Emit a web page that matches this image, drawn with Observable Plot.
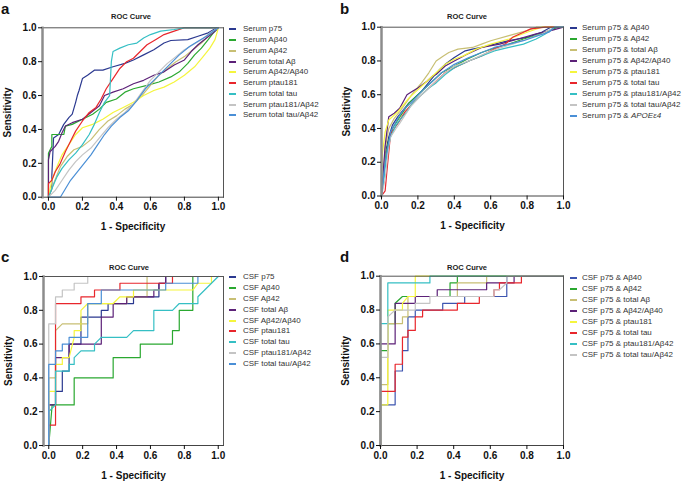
<!DOCTYPE html>
<html>
<head>
<meta charset="utf-8">
<script src="https://cdn.jsdelivr.net/npm/d3@7"></script>
<script src="https://cdn.jsdelivr.net/npm/@observablehq/plot@0.6"></script>
<style>
  html, body { margin: 0; padding: 0; background: #fff; overflow: hidden; }
  #root { position: relative; width: 685px; height: 482px; font-family: "Liberation Sans", Arial, sans-serif; }
  .abs { position: absolute; white-space: nowrap; }
  .title { font-size: 7.5px; font-weight: bold; color: #222; transform: translate(-50%, -50%); }
  .letter { font-size: 15px; font-weight: bold; line-height: 15px; color: #111; }
  .leg { font-size: 8px; color: #333; transform: translateY(-50%); line-height: 10px; }
  .sw { position: absolute; height: 2px; width: 7px; transform: translateY(-50%); }
</style>
</head>
<body>
<div id="root"></div>
<script>
const tickValues = [0, 0.2, 0.4, 0.6, 0.8, 1.0];
const tickLabels = ["0.0", "0.2", "0.4", "0.6", "0.8", "1.0"];
const colorsA = ["#2b3990", "#2aa830", "#c8bf74", "#5c2178", "#f5f53d", "#e8262c", "#35bfc4", "#c4c4c4", "#4a8fd6"];
const colorsD = ["#3d55b0", "#2aa830", "#c8bf74", "#5c2178", "#f5f53d", "#e8262c", "#35bfc4", "#c4c4c4"];

const namesA = ["Serum p75", "Serum Aβ40", "Serum Aβ42", "Serum total Aβ", "Serum Aβ42/Aβ40", "Serum ptau181", "Serum total tau", "Serum ptau181/Aβ42", "Serum total tau/Aβ42"];
const namesB = ["Serum p75 & Aβ40", "Serum p75 & Aβ42", "Serum p75 & total Aβ", "Serum p75 & Aβ42/Aβ40", "Serum p75 & ptau181", "Serum p75 & total tau", "Serum p75 & ptau181/Aβ42", "Serum p75 & total tau/Aβ42", "Serum p75 & APOEε4"];
const namesC = ["CSF p75", "CSF Aβ40", "CSF Aβ42", "CSF total Aβ", "CSF Aβ42/Aβ40", "CSF ptau181", "CSF total tau", "CSF ptau181/Aβ42", "CSF total tau/Aβ42"];
const namesD = ["CSF p75 & Aβ40", "CSF p75 & Aβ42", "CSF p75 & total Aβ", "CSF p75 & Aβ42/Aβ40", "CSF p75 & ptau181", "CSF p75 & total tau", "CSF p75 & ptau181/Aβ42", "CSF p75 & total tau/Aβ42"];

// [1 - specificity, sensitivity] pairs, one list per series (same order as names)
const rocA = [
  [[0,0],[0.02,0.05],[0.02,0.13],[0.03,0.35],[0.06,0.37],[0.09,0.43],[0.12,0.47],[0.14,0.49],[0.16,0.56],[0.17,0.6],[0.18,0.63],[0.2,0.7],[0.23,0.72],[0.27,0.75],[0.32,0.75],[0.38,0.77],[0.45,0.79],[0.5,0.81],[0.56,0.84],[0.62,0.87],[0.68,0.91],[0.72,0.925],[0.82,0.93],[0.88,0.95],[0.94,0.97],[0.99,1],[1,1]],
  [[0,0],[0,0.26],[0.02,0.3],[0.02,0.37],[0.09,0.37],[0.1,0.42],[0.14,0.43],[0.2,0.46],[0.26,0.49],[0.3,0.52],[0.34,0.56],[0.4,0.58],[0.45,0.62],[0.5,0.64],[0.58,0.66],[0.65,0.68],[0.72,0.71],[0.77,0.74],[0.82,0.79],[0.86,0.84],[0.9,0.88],[0.94,0.93],[0.97,0.97],[1,1]],
  [[0,0],[0.03,0.08],[0.07,0.18],[0.11,0.24],[0.15,0.28],[0.2,0.3],[0.25,0.34],[0.3,0.4],[0.35,0.45],[0.4,0.48],[0.45,0.52],[0.5,0.55],[0.55,0.6],[0.6,0.66],[0.65,0.72],[0.7,0.76],[0.75,0.8],[0.8,0.83],[0.85,0.87],[0.9,0.91],[0.95,0.96],[1,1]],
  [[0,0],[0,0.22],[0.01,0.27],[0.04,0.3],[0.06,0.33],[0.08,0.38],[0.1,0.42],[0.14,0.44],[0.2,0.46],[0.25,0.5],[0.3,0.54],[0.33,0.6],[0.38,0.62],[0.44,0.64],[0.5,0.67],[0.56,0.69],[0.62,0.72],[0.68,0.74],[0.74,0.78],[0.8,0.81],[0.84,0.86],[0.88,0.9],[0.93,0.94],[0.97,0.97],[1,1]],
  [[0,0],[0.02,0.1],[0.05,0.18],[0.08,0.25],[0.12,0.31],[0.16,0.37],[0.2,0.41],[0.26,0.43],[0.32,0.46],[0.38,0.5],[0.44,0.53],[0.5,0.56],[0.56,0.6],[0.62,0.63],[0.68,0.65],[0.74,0.68],[0.8,0.72],[0.86,0.77],[0.91,0.83],[0.95,0.88],[0.98,0.93],[1,1]],
  [[0,0],[0,0.08],[0.02,0.1],[0.04,0.15],[0.07,0.2],[0.1,0.27],[0.13,0.33],[0.16,0.39],[0.2,0.45],[0.24,0.5],[0.28,0.53],[0.31,0.58],[0.34,0.64],[0.38,0.7],[0.42,0.76],[0.46,0.8],[0.5,0.82],[0.54,0.86],[0.58,0.9],[0.63,0.93],[0.68,0.96],[0.74,0.98],[0.8,1],[1,1]],
  [[0,0],[0.02,0.05],[0.05,0.12],[0.08,0.17],[0.12,0.22],[0.16,0.26],[0.2,0.31],[0.24,0.37],[0.27,0.43],[0.3,0.5],[0.33,0.56],[0.36,0.6],[0.37,0.8],[0.38,0.86],[0.42,0.88],[0.47,0.9],[0.52,0.91],[0.56,0.94],[0.6,0.96],[0.66,0.98],[0.74,0.99],[0.8,1],[1,1]],
  [[0,0],[0.04,0.04],[0.08,0.1],[0.12,0.16],[0.16,0.21],[0.2,0.25],[0.25,0.29],[0.3,0.35],[0.35,0.41],[0.4,0.46],[0.45,0.5],[0.5,0.55],[0.55,0.62],[0.6,0.69],[0.65,0.74],[0.7,0.79],[0.75,0.83],[0.8,0.87],[0.85,0.9],[0.9,0.93],[0.95,0.97],[1,1]],
  [[0,0],[0.07,0],[0.1,0.05],[0.13,0.1],[0.17,0.15],[0.21,0.2],[0.25,0.25],[0.29,0.31],[0.33,0.37],[0.37,0.42],[0.42,0.47],[0.47,0.51],[0.52,0.57],[0.57,0.64],[0.62,0.69],[0.67,0.74],[0.72,0.79],[0.77,0.84],[0.83,0.89],[0.88,0.92],[0.93,0.95],[0.97,0.98],[1,1]]
];

const rocB = [
  [[0,0],[0.01,0.1],[0.02,0.25],[0.04,0.35],[0.06,0.42],[0.09,0.47],[0.12,0.51],[0.15,0.55],[0.18,0.58],[0.22,0.62],[0.25,0.66],[0.28,0.7],[0.32,0.75],[0.35,0.78],[0.4,0.82],[0.46,0.86],[0.5,0.87],[0.55,0.88],[0.62,0.9],[0.7,0.92],[0.8,0.94],[0.88,0.97],[0.93,1],[1,1]],
  [[0,0],[0.01,0.08],[0.02,0.22],[0.04,0.33],[0.06,0.4],[0.09,0.45],[0.12,0.5],[0.15,0.55],[0.2,0.6],[0.24,0.64],[0.27,0.67],[0.3,0.7],[0.33,0.73],[0.4,0.77],[0.47,0.81],[0.55,0.85],[0.63,0.88],[0.7,0.9],[0.78,0.93],[0.85,0.95],[0.92,0.98],[0.97,1],[1,1]],
  [[0,0],[0.01,0.12],[0.02,0.28],[0.04,0.4],[0.07,0.46],[0.1,0.5],[0.14,0.56],[0.18,0.62],[0.22,0.67],[0.26,0.73],[0.3,0.8],[0.34,0.83],[0.37,0.85],[0.42,0.87],[0.5,0.88],[0.55,0.9],[0.6,0.92],[0.7,0.95],[0.8,0.98],[0.85,1],[1,1]],
  [[0,0],[0.01,0.15],[0.02,0.3],[0.04,0.47],[0.07,0.49],[0.1,0.52],[0.12,0.56],[0.14,0.6],[0.17,0.62],[0.2,0.64],[0.25,0.68],[0.28,0.71],[0.3,0.72],[0.35,0.77],[0.4,0.8],[0.47,0.84],[0.55,0.88],[0.65,0.9],[0.75,0.93],[0.85,0.96],[0.93,0.98],[1,1]],
  [[0,0],[0,0.1],[0.005,0.25],[0.02,0.38],[0.04,0.45],[0.07,0.48],[0.09,0.5],[0.12,0.54],[0.15,0.58],[0.19,0.62],[0.22,0.65],[0.26,0.69],[0.29,0.72],[0.35,0.78],[0.4,0.81],[0.45,0.83],[0.52,0.87],[0.6,0.9],[0.7,0.93],[0.8,0.97],[0.88,1],[1,1]],
  [[0,0],[0.02,0.03],[0.03,0.15],[0.05,0.37],[0.07,0.4],[0.09,0.43],[0.13,0.5],[0.18,0.56],[0.21,0.59],[0.24,0.62],[0.3,0.68],[0.35,0.73],[0.42,0.77],[0.48,0.8],[0.55,0.83],[0.62,0.87],[0.68,0.9],[0.72,0.94],[0.78,0.97],[0.82,0.99],[0.9,1],[1,1]],
  [[0,0],[0.01,0.08],[0.03,0.25],[0.05,0.35],[0.08,0.42],[0.1,0.45],[0.14,0.5],[0.17,0.55],[0.22,0.6],[0.26,0.64],[0.3,0.67],[0.35,0.72],[0.4,0.76],[0.48,0.8],[0.55,0.83],[0.62,0.86],[0.7,0.88],[0.78,0.9],[0.85,0.93],[0.9,0.96],[0.95,1],[1,1]],
  [[0,0],[0.01,0.05],[0.02,0.1],[0.04,0.3],[0.05,0.35],[0.08,0.4],[0.1,0.43],[0.13,0.48],[0.16,0.53],[0.22,0.6],[0.28,0.66],[0.34,0.72],[0.4,0.77],[0.48,0.8],[0.56,0.84],[0.63,0.87],[0.72,0.9],[0.8,0.93],[0.88,0.96],[0.95,1],[1,1]],
  [[0,0],[0.01,0.1],[0.02,0.2],[0.04,0.32],[0.05,0.38],[0.08,0.44],[0.1,0.48],[0.13,0.52],[0.16,0.55],[0.22,0.62],[0.28,0.68],[0.33,0.73],[0.4,0.78],[0.48,0.82],[0.55,0.85],[0.62,0.88],[0.7,0.9],[0.78,0.92],[0.86,0.95],[0.92,0.97],[0.95,1],[1,1]]
];

const rocC = [
  [[0,0],[0,0.24],[0.04,0.24],[0.04,0.32],[0.08,0.32],[0.08,0.44],[0.12,0.44],[0.12,0.6],[0.19,0.6],[0.19,0.76],[0.31,0.76],[0.31,0.8],[0.35,0.8],[0.35,0.84],[0.5,0.84],[0.5,0.88],[0.65,0.88],[0.65,0.96],[0.69,0.96],[0.69,1],[1,1]],
  [[0,0],[0.02,0.24],[0.15,0.24],[0.15,0.4],[0.38,0.4],[0.38,0.52],[0.54,0.52],[0.54,0.6],[0.73,0.6],[0.73,0.68],[0.77,0.68],[0.77,0.8],[0.85,0.8],[0.85,1],[1,1]],
  [[0,0],[0,0.4],[0.04,0.4],[0.04,0.68],[0.08,0.72],[0.23,0.72],[0.23,0.84],[0.46,0.84],[0.46,0.88],[0.58,0.88],[0.58,1],[1,1]],
  [[0,0],[0,0.24],[0.04,0.24],[0.04,0.52],[0.12,0.52],[0.12,0.6],[0.31,0.6],[0.31,0.76],[0.38,0.76],[0.38,0.84],[0.46,0.84],[0.46,0.88],[0.62,0.88],[0.62,0.92],[0.65,0.92],[0.65,0.96],[0.69,0.96],[0.69,1],[1,1]],
  [[0,0],[0,0.32],[0.04,0.32],[0.04,0.48],[0.08,0.48],[0.08,0.52],[0.12,0.52],[0.15,0.64],[0.15,0.68],[0.19,0.68],[0.19,0.8],[0.23,0.84],[0.38,0.84],[0.42,0.88],[0.5,0.88],[0.5,0.92],[0.85,0.92],[0.88,0.96],[0.96,0.96],[0.96,1],[1,1]],
  [[0,0],[0,0.12],[0.04,0.12],[0.04,0.84],[0.19,0.84],[0.19,0.88],[0.27,0.88],[0.27,0.92],[0.42,0.92],[0.42,0.96],[0.73,0.96],[0.73,1],[1,1]],
  [[0,0],[0,0.2],[0.04,0.24],[0.04,0.44],[0.12,0.44],[0.12,0.48],[0.15,0.48],[0.15,0.52],[0.19,0.56],[0.27,0.56],[0.27,0.6],[0.31,0.64],[0.46,0.64],[0.5,0.68],[0.62,0.68],[0.62,0.8],[0.73,0.8],[0.77,0.84],[0.88,0.84],[0.88,0.88],[0.92,0.92],[0.96,0.96],[1,1]],
  [[0,0],[0,0.72],[0.04,0.72],[0.04,0.88],[0.08,0.88],[0.08,0.92],[0.15,0.92],[0.15,0.96],[0.23,0.96],[0.23,1],[1,1]],
  [[0,0],[0,0.48],[0.04,0.48],[0.04,0.56],[0.08,0.56],[0.08,0.6],[0.12,0.6],[0.12,0.64],[0.23,0.64],[0.23,0.84],[0.31,0.84],[0.31,0.92],[0.69,0.92],[0.69,0.96],[0.88,0.96],[0.88,1],[1,1]]
];

const rocD = [
  [[0,0],[0,0.24],[0.08,0.24],[0.08,0.44],[0.12,0.44],[0.12,0.56],[0.15,0.56],[0.15,0.76],[0.19,0.76],[0.19,0.8],[0.34,0.8],[0.34,0.84],[0.46,0.84],[0.46,0.88],[0.69,0.88],[0.69,1],[1,1]],
  [[0,0],[0,0.56],[0.04,0.56],[0.04,0.72],[0.08,0.72],[0.08,0.84],[0.12,0.88],[0.38,0.88],[0.38,0.96],[0.42,0.96],[0.42,1],[1,1]],
  [[0,0],[0,0.36],[0.04,0.36],[0.04,0.72],[0.12,0.72],[0.12,0.76],[0.15,0.76],[0.15,0.88],[0.42,0.88],[0.42,0.96],[0.58,0.96],[0.58,1],[1,1]],
  [[0,0],[0,0.6],[0.08,0.6],[0.08,0.84],[0.19,0.84],[0.19,0.88],[0.31,0.88],[0.31,0.92],[0.58,0.92],[0.58,0.96],[0.73,0.96],[0.73,1],[1,1]],
  [[0,0],[0,0.24],[0.04,0.24],[0.04,0.8],[0.12,0.8],[0.12,0.84],[0.15,0.88],[0.19,0.88],[0.19,1],[1,1]],
  [[0,0],[0,0.32],[0.08,0.32],[0.08,0.48],[0.12,0.48],[0.12,0.64],[0.15,0.64],[0.15,0.68],[0.19,0.68],[0.19,0.76],[0.23,0.76],[0.23,0.8],[0.42,0.8],[0.42,0.84],[0.54,0.84],[0.54,0.88],[0.62,0.88],[0.62,0.92],[0.65,0.92],[0.65,0.96],[0.77,0.96],[0.77,1],[1,1]],
  [[0,0],[0,0.72],[0.04,0.72],[0.04,0.96],[0.27,0.96],[0.27,1],[1,1]],
  [[0,0],[0,0.52],[0.04,0.52],[0.04,0.76],[0.08,0.8],[0.19,0.8],[0.19,0.84],[0.27,0.84],[0.27,0.88],[0.62,0.88],[0.62,0.92],[0.65,0.92],[0.69,0.96],[0.69,1],[1,1]]
];

const root = document.getElementById("root");

function addDiv(cls, left, top, html, extra) {
  const d = document.createElement("div");
  d.className = "abs " + cls;
  d.style.left = left + "px";
  d.style.top = top + "px";
  d.innerHTML = html;
  if (extra) Object.assign(d.style, extra);
  root.appendChild(d);
  return d;
}

function panel(cfg) {
  const data = [];
  cfg.roc.forEach((pts, i) => pts.forEach(([fpr, tpr]) => data.push({series: cfg.names[i], fpr, tpr})));
  const svg = Plot.plot({
    width: 685, height: 482,
    marginLeft: cfg.left, marginRight: 685 - cfg.right,
    marginTop: cfg.top, marginBottom: 482 - cfg.bottom,
    style: {background: "transparent", position: "absolute", left: "0px", top: "0px",
            fontFamily: "'Liberation Sans', Arial, sans-serif", fontSize: "10px", fontWeight: "bold", color: "#111", overflow: "visible"},
    x: {domain: cfg.xDomain},
    y: {domain: [0, 1]},
    color: {domain: cfg.names, range: cfg.colors},
    marks: [
      Plot.line(data, {x: "fpr", y: "tpr", z: "series", stroke: "series", strokeWidth: 1.2}),
      Plot.frame({anchor: "top", stroke: "#555"}),
      Plot.frame({anchor: "right", stroke: "#555"}),
      Plot.frame({anchor: "bottom", stroke: "#444"}),
      Plot.frame({anchor: "left", stroke: "#8c8c8c", strokeWidth: 2.5}),
      Plot.axisX({ticks: tickValues, tickFormat: (d, i) => tickLabels[i], tickSize: 4, tickPadding: 2,
                  label: "1 - Specificity", labelAnchor: "center", labelArrow: "none", labelOffset: 33}),
      Plot.axisY({ticks: tickValues, tickFormat: (d, i) => tickLabels[i], tickSize: 4, tickPadding: 2,
                  label: "Sensitivity", labelAnchor: "center", labelArrow: "none", labelOffset: 39})
    ]
  });
  root.appendChild(svg);
  addDiv("title", cfg.titleX, cfg.titleY, "ROC Curve");
  addDiv("letter", cfg.letterX, cfg.letterY, cfg.letter);
  cfg.names.forEach((n, i) => {
    const y = cfg.legY + i * cfg.legStep;
    const sw = addDiv("sw", cfg.swX, y, "");
    sw.style.background = cfg.colors[i];
    const label = n.replace("APOEε4", "<i>APOEε4</i>");
    addDiv("leg", cfg.textX, y, label);
  });
}

panel({roc: rocA, names: namesA, colors: colorsA, left: 42, right: 223, top: 27.3, bottom: 196.7, xDomain: [-0.035, 1.03],
       titleX: 131, titleY: 16, letter: "a", letterX: 1, letterY: 0.5, legY: 29.3, legStep: 10.75, swX: 229, textX: 243});
panel({roc: rocB, names: namesB, colors: colorsA, left: 381, right: 563, top: 26.7, bottom: 195.5, xDomain: [0, 1],
       titleX: 467, titleY: 16, letter: "b", letterX: 340, letterY: 0.5, legY: 28.3, legStep: 10.9, swX: 570, textX: 582});
panel({roc: rocC, names: namesC, colors: colorsA, left: 43, right: 223, top: 276, bottom: 445, xDomain: [-0.031, 1.031],
       titleX: 129, titleY: 267, letter: "c", letterX: 1, letterY: 249.3, legY: 276.7, legStep: 10.95, swX: 229, textX: 243});
panel({roc: rocD, names: namesD, colors: colorsD, left: 380, right: 563, top: 275.7, bottom: 445, xDomain: [0, 1],
       titleX: 467, titleY: 267, letter: "d", letterX: 340, letterY: 249.3, legY: 278.3, legStep: 10.95, swX: 570, textX: 582});
</script>
</body>
</html>
